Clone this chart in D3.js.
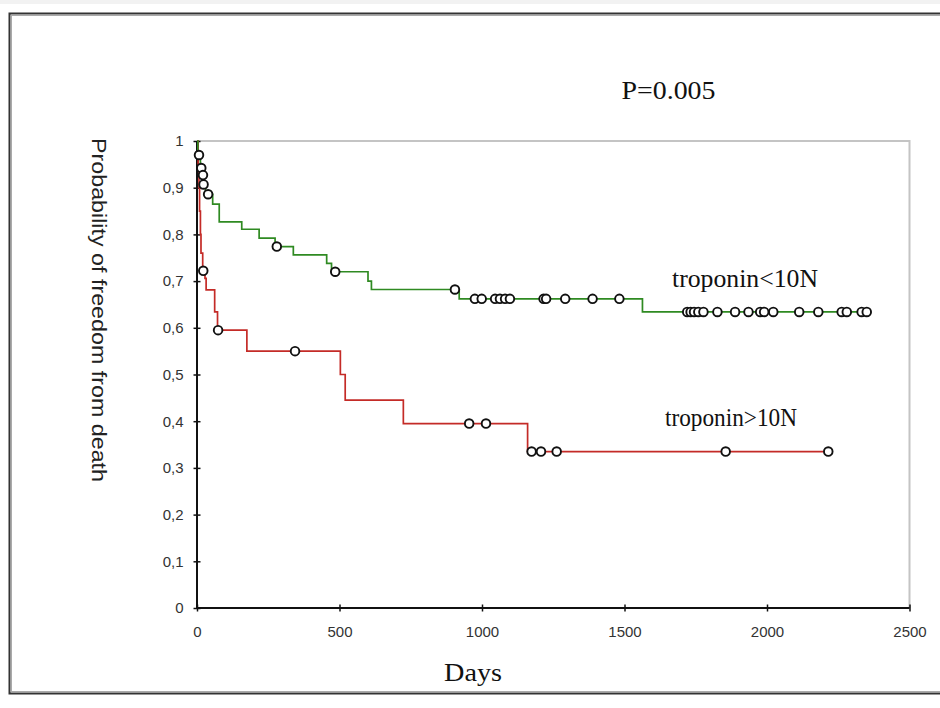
<!DOCTYPE html>
<html><head><meta charset="utf-8">
<script src="https://cdn.jsdelivr.net/npm/d3@7"></script>
<style>html,body{margin:0;padding:0;background:#fff;}svg{display:block;}</style>
</head><body>
<script>
// ---- data ----
const xTicks = [0, 500, 1000, 1500, 2000, 2500];
const yTicks = [0, 0.1, 0.2, 0.3, 0.4, 0.5, 0.6, 0.7, 0.8, 0.9, 1];
const yTickLabels = ["0", "0,1", "0,2", "0,3", "0,4", "0,5", "0,6", "0,7", "0,8", "0,9", "1"];

const lowDays = [0, 3, 12, 18, 22, 30, 55, 78, 157, 218, 274, 338, 455, 472, 600, 612, 920, 1563];
const lowSurv = [1, 0.97, 0.942, 0.927, 0.907, 0.886, 0.865, 0.827, 0.811, 0.792, 0.774, 0.756, 0.738, 0.72, 0.70, 0.682, 0.662, 0.634];
const lowCensor = [7, 15, 21, 23, 39, 280, 485, 905, 975, 999, 1046, 1063, 1081, 1098, 1216, 1225, 1292, 1388, 1482,
  1720, 1732, 1744, 1759, 1777, 1826, 1888, 1935, 1976, 1990, 2022, 2113, 2180, 2262, 2280, 2332, 2350];
const lowEnd = 2356;

const highDays = [0, 4, 7, 9, 12, 14, 20, 28, 32, 62, 72, 175, 503, 520, 724, 1160];
const highSurv = [1, 0.95, 0.9, 0.85, 0.80, 0.76, 0.722, 0.706, 0.681, 0.634, 0.595, 0.55, 0.50, 0.445, 0.395, 0.335];
const highCensor = [22, 74, 344, 955, 1014, 1174, 1207, 1262, 1855, 2215];
const highEnd = 2215;

const groupLabels = ["troponin<10N", "troponin>10N"];
const pText = "P=0.005";

// ---- layout ----
const W = 940, H = 708;
const svg = d3.select("body").append("svg").attr("width", W).attr("height", H);
svg.append("rect").attr("x", 0).attr("y", 0).attr("width", W).attr("height", 4).attr("fill", "#f2f2f2");
// outer frame
svg.append("rect").attr("x", 9.5).attr("y", 13.5).attr("width", 960).attr("height", 680)
  .attr("fill", "none").attr("stroke", "#333").attr("stroke-width", 2);
svg.append("rect").attr("x", 11.5).attr("y", 15.5).attr("width", 960).attr("height", 676)
  .attr("fill", "none").attr("stroke", "#aaa").attr("stroke-width", 1);

const x = d3.scaleLinear().domain([0, 2500]).range([197, 909.5]);
const y = d3.scaleLinear().domain([0, 1]).range([608, 141]);

// plot border top/right
svg.append("path").attr("d", `M${x(0)},${y(1)}H${x(2500)}V${y(0)}`)
  .attr("fill", "none").attr("stroke", "#c4c4c4").attr("stroke-width", 2);

const sans = "'Liberation Sans', Arial, sans-serif";

// axes
const xAxis = d3.axisBottom(x).tickValues(xTicks).tickSizeInner(7).tickSizeOuter(0).tickFormat(d3.format("d"));
const gx = svg.append("g").attr("transform", `translate(0,${y(0) - 3.5})`).call(xAxis);
gx.select(".domain").remove();
gx.selectAll(".tick line").attr("stroke", "#111").attr("stroke-width", 1.5);
gx.selectAll(".tick text").attr("y", 22).attr("dy", "0.71em");
svg.append("line").attr("x1", x(0)).attr("x2", x(2500)).attr("y1", y(0)).attr("y2", y(0))
  .attr("stroke", "#111").attr("stroke-width", 2.2);

const yAxis = d3.axisLeft(y).tickValues(yTicks).tickSizeInner(7).tickSizeOuter(0)
  .tickFormat((d, i) => yTickLabels[i]);
const gy = svg.append("g").attr("transform", `translate(${x(0) + 3.5},0)`).call(yAxis);
gy.select(".domain").remove();
gy.selectAll(".tick line").attr("stroke", "#111").attr("stroke-width", 1.5);
gy.selectAll(".tick text").attr("x", -17);
svg.append("line").attr("x1", x(0)).attr("x2", x(0)).attr("y1", y(1)).attr("y2", y(0))
  .attr("stroke", "#111").attr("stroke-width", 2);

svg.selectAll(".tick text").attr("font-family", sans).attr("font-size", 15).attr("fill", "#333");

// step curves
const line = d3.line().x(d => x(d[0])).y(d => y(d[1])).curve(d3.curveStepAfter);
function stepVal(days, surv, t) {
  let v = surv[0];
  for (let i = 0; i < days.length; i++) if (days[i] <= t) v = surv[i];
  return v;
}
function drawGroup(days, surv, end, censor, color) {
  const pts = days.map((d, i) => [d, surv[i]]);
  pts.push([end, surv[surv.length - 1]]);
  svg.append("path").attr("d", line(pts)).attr("fill", "none")
    .attr("stroke", color).attr("stroke-width", 1.7);
  svg.append("g").selectAll("circle").data(censor).join("circle")
    .attr("cx", d => x(d)).attr("cy", d => y(stepVal(days, surv, d)))
    .attr("r", 4.3).attr("fill", "#fff").attr("stroke", "#111").attr("stroke-width", 1.9);
}
drawGroup(highDays, highSurv, highEnd, highCensor, "#c42b27");
drawGroup(lowDays, lowSurv, lowEnd, lowCensor, "#2f8a22");

// texts
const serif = "'Liberation Serif', 'Times New Roman', serif";
function serifText(cx, by, txt, len) {
  svg.append("text").attr("x", cx - len / 2).attr("y", by)
    .attr("textLength", len).attr("lengthAdjust", "spacingAndGlyphs")
    .attr("font-family", serif).attr("font-size", 25).attr("fill", "#111").text(txt);
}
serifText(668.5, 99, pText, 94);
serifText(745, 287, groupLabels[0], 146);
serifText(731, 426, groupLabels[1], 132);
serifText(473, 681, "Days", 58);
svg.append("text").attr("transform", "translate(92,138) rotate(90)")
  .attr("textLength", 344).attr("lengthAdjust", "spacingAndGlyphs")
  .attr("font-family", sans).attr("font-size", 20).attr("fill", "#222")
  .text("Probability of freedom from death");
</script>
</body></html>
